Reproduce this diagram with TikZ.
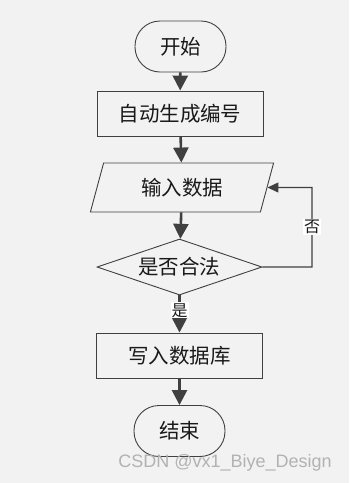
\documentclass[tikz,border=0pt]{standalone}
\usepackage{fontspec}
\newfontfamily\cjk{Noto Sans CJK SC}
\newfontfamily\wm{Liberation Sans}
\usetikzlibrary{arrows.meta,shapes.geometric}
\definecolor{bg}{HTML}{F2F2F2}
\definecolor{ln}{HTML}{404040}
\begin{document}
\begin{tikzpicture}[x=1pt,y=-1pt,
  base/.style={draw=ln,line width=0.9pt,inner sep=0pt,font=\cjk\fontsize{20.5}{22}\selectfont,text=black!90},
  term/.style={base,rectangle,rounded corners=25pt,minimum width=91pt,minimum height=51pt},
  proc/.style={base,rectangle,minimum width=166pt,minimum height=45pt},
  io/.style={base,trapezium,trapezium left angle=70,trapezium right angle=110,trapezium stretches=true,minimum width=184pt,minimum height=49pt},
  dec/.style={base,diamond,shape aspect=2.95,minimum width=165pt,minimum height=56pt},
  flow/.style={draw=ln,line width=2.6pt,-{Triangle[width=15pt,length=15pt]}},
  thin/.style={draw=ln,line width=1.3pt,-{Triangle[width=10pt,length=11pt]}},
  lbl/.style={fill=white,inner sep=1pt,font=\cjk\fontsize{16}{18}\selectfont,text=black!90}]
\fill[bg] (0,0) rectangle (349,483);
\useasboundingbox (0,0) rectangle (349,483);
\node[term] (start) at (180.5,46.5) {开始};
\node[proc] (gen) at (180,113.5) {自动生成编号};
\node[io] (inp) at (182,187.5) {输入数据};
\node[dec] (chk) at (179.5,267) {是否合法};
\node[proc] (write) at (179.5,355.5) {写入数据库};
\node[term] (stop) at (179.5,431) {结束};
\coordinate (c1) at (312,267);
\coordinate (c2) at (312,187.5);
\draw[flow] (start) -- (gen);
\draw[flow] (gen) -- (inp);
\draw[flow] (inp) -- (chk);
\draw[flow] (chk) -- node[lbl,pos=0.4] {是} (write);
\draw[flow] (write) -- (stop);
\draw[thin] (chk.east) -- (c1) -- node[lbl,pos=0.5] {否} (c2) -- (inp.east);
\node[font=\wm\fontsize{18}{20}\selectfont,text=black!30] (wmk) at (225,463) {CSDN @vx1\_Biye\_Design};
\end{tikzpicture}
\end{document}
